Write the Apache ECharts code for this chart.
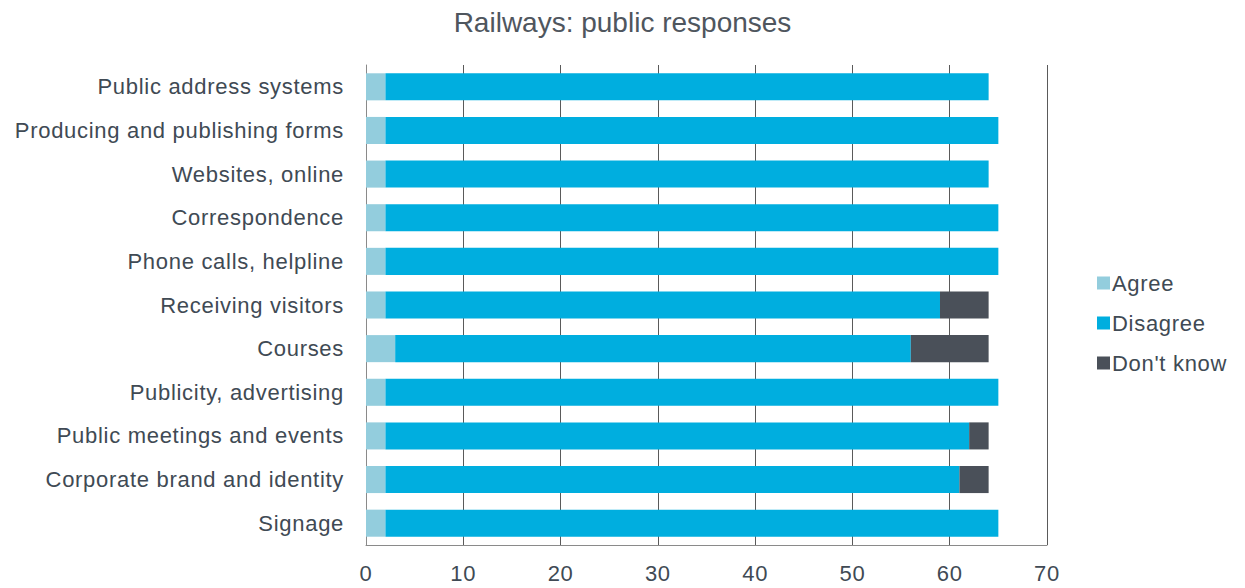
<!DOCTYPE html>
<html>
<head>
<meta charset="utf-8">
<script src="https://cdn.jsdelivr.net/npm/echarts@6/dist/echarts.min.js"></script>
<style>
html,body{margin:0;padding:0;background:#fff;}
#chart{width:1245px;height:588px;}
#chart svg text{letter-spacing:0.7px;}
#chart svg text[style*="28px"]{letter-spacing:0px;}
</style>
</head>
<body>
<div id="chart"></div>
<script>
const categories = [
  "Public address systems",
  "Producing and publishing forms",
  "Websites, online",
  "Correspondence",
  "Phone calls, helpline",
  "Receiving visitors",
  "Courses",
  "Publicity, advertising",
  "Public meetings and events",
  "Corporate brand and identity",
  "Signage"
];
const agree    = [2, 2, 2, 2, 2, 2, 3, 2, 2, 2, 2];
const disagree = [62, 63, 62, 63, 63, 57, 53, 63, 60, 59, 63];
const dontKnow = [0, 0, 0, 0, 0, 5, 8, 0, 2, 3, 0];
const xTicks = [0, 10, 20, 30, 40, 50, 60, 70];

const textColor = '#404a54';
const chart = echarts.init(document.getElementById('chart'), null, { renderer: 'svg' });
chart.setOption({
  animation: false,
  backgroundColor: '#fff',
  title: {
    text: 'Railways: public responses',
    left: 'center',
    top: 3,
    textStyle: { fontFamily: 'Liberation Sans', fontSize: 28, fontWeight: 'normal', color: '#4f565e' }
  },
  legend: {
    orient: 'vertical',
    left: 1092,
    top: 267,
    itemWidth: 13,
    itemHeight: 13,
    itemGap: 18,
    icon: 'rect',
    textStyle: { fontFamily: 'Liberation Sans', fontSize: 22, color: textColor, padding: [0,0,0,-3] },
    data: ['Agree', 'Disagree', "Don't know"]
  },
  grid: { left: 366, right: 198, top: 65, bottom: 43, containLabel: false },
  xAxis: {
    type: 'value',
    min: 0,
    max: 70,
    interval: 10,
    axisLine: { show: true, lineStyle: { color: '#8a8a8a', width: 1 } },
    axisTick: { show: false },
    axisLabel: {
      fontFamily: 'Liberation Sans', fontSize: 22, color: textColor, margin: 17,
      formatter: v => xTicks.includes(v) ? String(v) : ''
    },
    splitLine: { show: true, lineStyle: { color: '#5a5a5a', width: 1 } }
  },
  yAxis: {
    type: 'category',
    data: categories,
    inverse: true,
    axisLine: { show: true, lineStyle: { color: '#8a8a8a', width: 1 } },
    axisTick: { show: false },
    axisLabel: { fontFamily: 'Liberation Sans', fontSize: 22, color: textColor, margin: 22 }
  },
  series: [
    { name: 'Agree', type: 'bar', stack: 'total', data: agree, barCategoryGap: '38%', itemStyle: { color: '#93CDDD' } },
    { name: 'Disagree', type: 'bar', stack: 'total', data: disagree, itemStyle: { color: '#00AEDF' } },
    { name: "Don't know", type: 'bar', stack: 'total', data: dontKnow, itemStyle: { color: '#4A5059' } }
  ]
});
</script>
</body>
</html>
